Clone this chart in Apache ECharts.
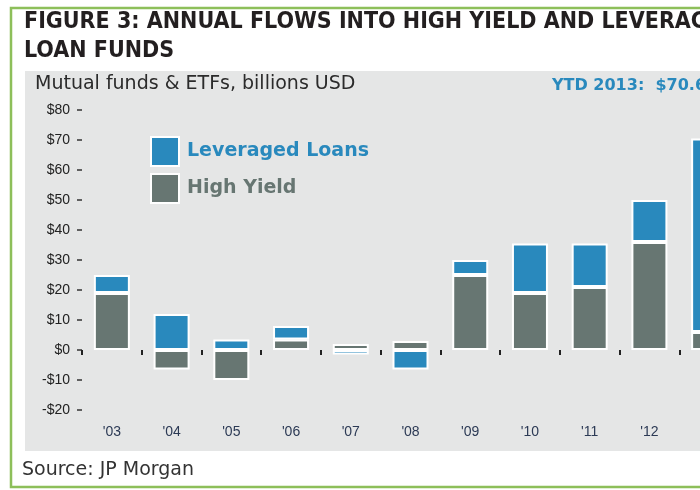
<!DOCTYPE html>
<html>
<head>
<meta charset="utf-8">
<script src="https://cdn.jsdelivr.net/npm/echarts@6/dist/echarts.min.js"></script>
<style>
  html, body { margin: 0; padding: 0; background: #fff; overflow: hidden; }
  #main { width: 760px; height: 490px; }
</style>
</head>
<body>
<div id="main"></div>
<script>
// years shown along the bottom
var years = ["'03", "'04", "'05", "'06", "'07", "'08", "'09", "'10", "'11", "'12", "'13"];
// billions USD
var highYield = [19, -6.5, -10, 3.5, 2, 3, 25, 19, 21, 36, 6];
var leveragedLoans = [6, 12, 3.5, 4.5, -1.5, -6.5, 5, 16.5, 14.5, 14, 64.5];

var blue = '#2989bd';
var grey = '#677672';

var myChart = echarts.init(document.getElementById('main'));

option = {
    backgroundColor: '#fff',
    animation: false,
    graphic: [
        {
            type: 'rect',
            shape: { x: 11, y: 8, width: 800, height: 479 },
            style: { fill: '#fff', stroke: '#8dbf5a', lineWidth: 2.5 },
            z: -10
        },
        {
            type: 'rect',
            shape: { x: 25, y: 71, width: 800, height: 380 },
            style: { fill: '#e5e6e6' },
            z: -9
        },
        {
            type: 'text',
            left: 24, top: 8,
            style: {
                text: 'FIGURE 3: ANNUAL FLOWS INTO HIGH YIELD AND LEVERAGED\nLOAN FUNDS',
                font: 'bold 23px "DejaVu Sans Condensed", sans-serif',
                lineHeight: 29,
                fill: '#231f20'
            }
        },
        {
            type: 'text',
            left: 35, top: 75,
            style: {
                text: 'Mutual funds & ETFs, billions USD',
                font: '19px "DejaVu Sans", sans-serif',
                fill: '#2b2b2b'
            }
        },
        {
            type: 'text',
            left: 552, top: 78,
            style: {
                text: 'YTD 2013:  $70.6bn',
                font: 'bold 16px "DejaVu Sans", sans-serif',
                fill: blue
            }
        },
        {
            type: 'text',
            left: 22, top: 461,
            style: {
                text: 'Source: JP Morgan',
                font: '19px "DejaVu Sans", sans-serif',
                fill: '#333'
            }
        }
    ],
    legend: {
        orient: 'vertical',
        left: 145,
        top: 131,
        itemWidth: 28,
        itemHeight: 29,
        itemGap: 6,
        icon: 'rect',
        selectedMode: false,
        textStyle: { fontSize: 19, fontWeight: 'bold', fontFamily: 'DejaVu Sans', padding: [0, 0, 0, 3] },
        data: [
            { name: 'Leveraged Loans', textStyle: { color: blue } },
            { name: 'High Yield', textStyle: { color: grey } }
        ]
    },
    grid: {
        left: 82,
        right: 21,
        top: 110,
        height: 300
    },
    xAxis: [
        {
            type: 'category',
            data: years,
            axisLine: { show: false },
            axisTick: { show: false },
            axisLabel: { margin: 15, fontSize: 14, color: '#2c3a55', fontFamily: 'Liberation Sans' }
        },
        {
            type: 'category',
            data: years,
            position: 'bottom',
            offset: -60,
            axisLine: { show: false },
            axisTick: { show: true, length: 5, lineStyle: { color: '#222', width: 2 } },
            axisLabel: { show: false }
        }
    ],
    yAxis: {
        type: 'value',
        min: -20,
        max: 80,
        interval: 10,
        axisLine: { show: false },
        axisTick: { show: true, length: 5, lineStyle: { color: '#333', width: 1.5 } },
        splitLine: { show: false },
        axisLabel: {
            margin: 12,
            fontSize: 14,
            color: '#222',
            fontFamily: 'Liberation Sans',
            formatter: function (v) { return v < 0 ? '-$' + (-v) : '$' + v; }
        }
    },
    series: [
        {
            name: 'High Yield',
            type: 'bar',
            stack: 'flows',
            barWidth: 36,
            data: highYield,
            itemStyle: { color: grey, borderColor: '#fff', borderWidth: 2 }
        },
        {
            name: 'Leveraged Loans',
            type: 'bar',
            stack: 'flows',
            barWidth: 36,
            data: leveragedLoans,
            itemStyle: { color: blue, borderColor: '#fff', borderWidth: 2 }
        }
    ]
};

myChart.setOption(option);
</script>
</body>
</html>
